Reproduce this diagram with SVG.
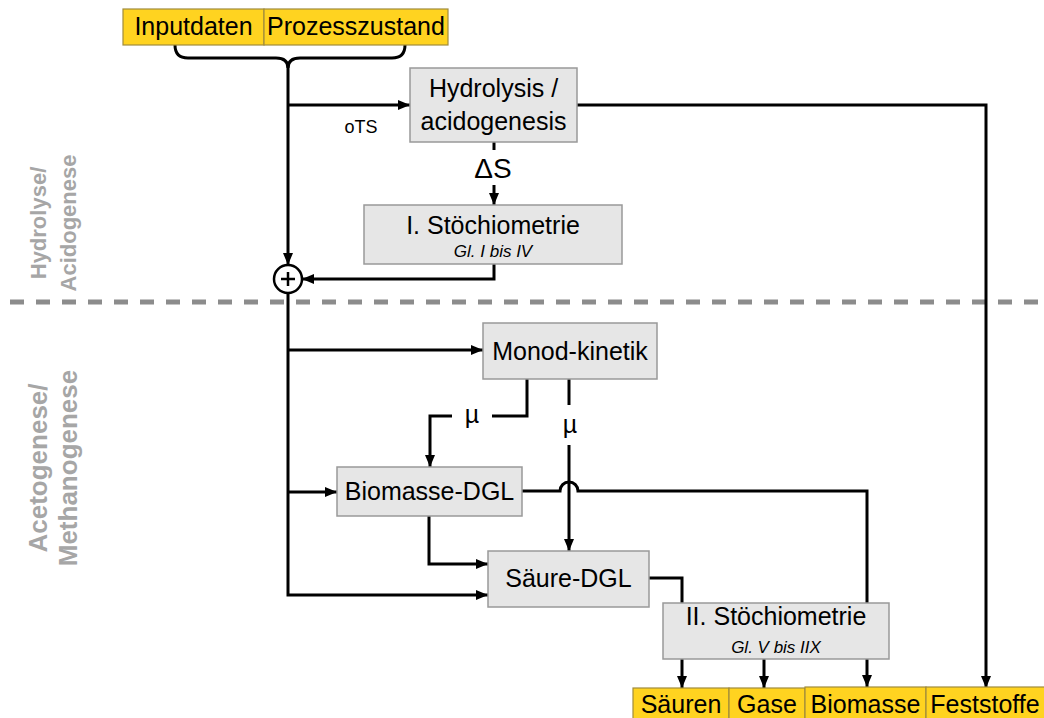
<svg xmlns="http://www.w3.org/2000/svg" width="1044" height="718" viewBox="0 0 1044 718">
<defs>
<style>
text{font-family:"Liberation Sans",Arial,sans-serif;fill:#000}
.box{fill:#e6e6e6;stroke:#999;stroke-width:1.5}
.ybox{fill:#ffd320;stroke:#a08c3c;stroke-width:1.2}
.t{font-size:25px;text-anchor:middle}
.s{font-size:17px;font-style:italic;text-anchor:middle}
.c{fill:none;stroke:#000;stroke-width:3}
.side{font-weight:bold;fill:#a6a6a6;text-anchor:middle}
</style>
<marker id="ah" markerUnits="userSpaceOnUse" markerWidth="12" markerHeight="10" refX="12" refY="5" orient="auto">
<path d="M0,0 L12,5 L0,10 z" fill="#000"/>
</marker>
</defs>
<rect width="1044" height="718" fill="#fff"/>
<line x1="10" y1="302" x2="1044" y2="302" stroke="#8c8c8c" stroke-width="5" stroke-dasharray="14 12"/>
<g id="side-labels">
<text class="side" font-size="22" transform="translate(46,223) rotate(-90)">Hydrolyse/</text>
<text class="side" font-size="22" transform="translate(76,223) rotate(-90)">Acidogenese</text>
<text class="side" font-size="26" transform="translate(47,468) rotate(-90)">Acetogenese/</text>
<text class="side" font-size="26" transform="translate(77,468) rotate(-90)">Methanogenese</text>
</g>
<g id="connectors">
<path class="c" d="M175,45 Q175,58 188,58 H276 Q288,58 288,68 Q288,58 300,58 H392 Q405,58 405,45" stroke-width="2.5"/>
<path class="c" d="M288,66 V265" marker-end="url(#ah)"/>
<path class="c" d="M288,105 H410" marker-end="url(#ah)"/>
<path class="c" d="M494,142 V150"/>
<path class="c" d="M494,185 V205" marker-end="url(#ah)"/>
<path class="c" d="M494,264 V279 H302" marker-end="url(#ah)"/>
<path class="c" d="M288,293 V595 H488" marker-end="url(#ah)"/>
<path class="c" d="M288,350 H483" marker-end="url(#ah)"/>
<path class="c" d="M288,492 H337" marker-end="url(#ah)"/>
<path class="c" d="M527,379 V416 H492"/>
<path class="c" d="M452,416 H430 V467" marker-end="url(#ah)"/>
<path class="c" d="M569,379 V405"/>
<path class="c" d="M569,445 V551" marker-end="url(#ah)"/>
<path class="c" d="M522,491 H560 A9,9 0 0 1 578,491 H867 V603"/>
<path class="c" d="M429,516 V564 H488" marker-end="url(#ah)"/>
<path class="c" d="M649,578 H682 V603"/>
<path class="c" d="M577,105 H986 V688" marker-end="url(#ah)"/>
<path class="c" d="M682,659 V688" marker-end="url(#ah)"/>
<path class="c" d="M764,659 V688" marker-end="url(#ah)"/>
<path class="c" d="M867,659 V687" marker-end="url(#ah)"/>
</g>
<g id="labels">
<text x="361" y="133" font-size="18" text-anchor="middle">oTS</text>
<text x="493" y="178" font-size="28" text-anchor="middle">ΔS</text>
<text x="472" y="423" font-size="25" text-anchor="middle">µ</text>
<text x="570" y="433" font-size="25" text-anchor="middle">µ</text>
</g>
<g id="inputs">
<rect class="ybox" x="123" y="9" width="141" height="36"/>
<text class="t" x="193.5" y="35">Inputdaten</text>
<rect class="ybox" x="264" y="9" width="184" height="36"/>
<text class="t" x="356" y="35">Prozesszustand</text>
</g>
<g id="hydrolysis">
<rect class="box" x="410" y="68" width="167" height="74"/>
<text class="t" x="493.5" y="97">Hydrolysis /</text>
<text class="t" x="493.5" y="130">acidogenesis</text>
</g>
<g id="stoch1">
<rect class="box" x="364" y="205" width="258" height="59"/>
<text class="t" x="493" y="234">I. Stöchiometrie</text>
<text class="s" x="493" y="257">Gl. I bis IV</text>
</g>
<g id="sum">
<circle cx="288" cy="279" r="14" fill="#fff" stroke="#000" stroke-width="2.5"/>
<path d="M281,279 H295 M288,272 V286" stroke="#000" stroke-width="2.5"/>
</g>
<g id="monod">
<rect class="box" x="483" y="323" width="174" height="56"/>
<text class="t" x="570" y="360">Monod-kinetik</text>
</g>
<g id="biomasse-dgl">
<rect class="box" x="337" y="467" width="185" height="49"/>
<text class="t" x="429.5" y="500">Biomasse-DGL</text>
</g>
<g id="saeure-dgl">
<rect class="box" x="488" y="551" width="161" height="56"/>
<text class="t" x="568.5" y="587">Säure-DGL</text>
</g>
<g id="stoch2">
<rect class="box" x="663" y="603" width="226" height="56"/>
<text class="t" x="776" y="625">II. Stöchiometrie</text>
<text class="s" x="776" y="653">Gl. V bis IIX</text>
</g>
<g id="outputs">
<rect class="ybox" x="633" y="688" width="96" height="34"/>
<text class="t" x="681" y="713">Säuren</text>
<rect class="ybox" x="729" y="688" width="76" height="34"/>
<text class="t" x="767" y="713">Gase</text>
<rect class="ybox" x="805" y="687" width="121" height="35"/>
<text class="t" x="865.5" y="713">Biomasse</text>
<rect class="ybox" x="926" y="687" width="120" height="35"/>
<text class="t" x="985" y="713">Feststoffe</text>
</g>
</svg>
